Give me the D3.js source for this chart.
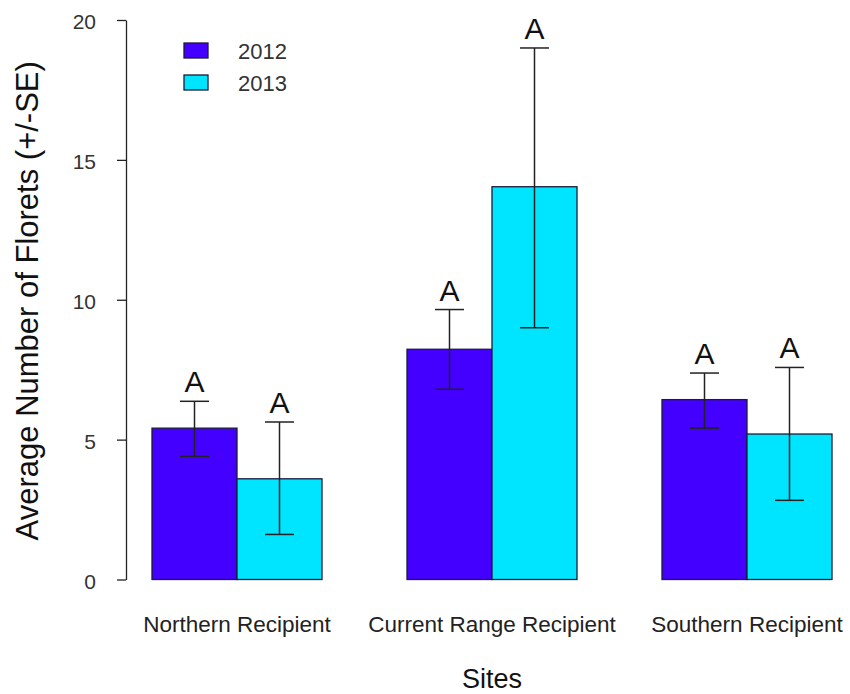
<!DOCTYPE html>
<html lang="en">
<head>
    <meta charset="UTF-8">
    <title>Average Number of Florets by Site</title>
    <script src="https://d3js.org/d3.v7.min.js"></script>
    <style>
        body { margin: 0; background: #fff; }
        svg { font-family: "Liberation Sans", Arial, sans-serif; }
        .axis text { fill: #333; font-size: 21px; }
        .axis path, .axis line { stroke: #222; stroke-width: 1.3px; }
        .site-label { fill: #222; font-size: 22.5px; }
        .legend text { fill: #333; font-size: 22px; }
    </style>
</head>
<body>
    <svg id="chart" width="850" height="694"></svg>

    <script>
        const sites = ["Northern Recipient", "Current Range Recipient", "Southern Recipient"];
        const years = ["2012", "2013"];
        const colors = ["#4400ff", "#00e5ff"];

        const means2012 = [5.41, 8.23, 6.43];
        const means2013 = [3.60, 14.04, 5.20];
        const lower2012 = [4.40, 6.80, 5.41];
        const upper2012 = [6.37, 9.65, 7.38];
        const lower2013 = [1.61, 9.00, 2.83];
        const upper2013 = [5.63, 19.00, 7.58];
        const letters2012 = ["A", "A", "A"];
        const letters2013 = ["A", "A", "A"];
        const yTicks = [0, 5, 10, 15, 20];

        // one record per bar
        const data = [];
        sites.forEach((s, i) => {
            data.push({site: s, year: "2012", mean: means2012[i], lo: lower2012[i], hi: upper2012[i], letter: letters2012[i]});
            data.push({site: s, year: "2013", mean: means2013[i], lo: lower2013[i], hi: upper2013[i], letter: letters2013[i]});
        });

        const svg = d3.select("#chart");

        const x = d3.scaleBand()
            .domain(sites)
            .range([152, 832])
            .paddingInner(1 / 3)
            .paddingOuter(0);

        const xYear = d3.scaleBand()
            .domain(years)
            .range([0, x.bandwidth()]);

        const y = d3.scaleLinear()
            .domain([0, 20])
            .range([579.5, 20]);

        const color = d3.scaleOrdinal().domain(years).range(colors);

        const barX = d => x(d.site) + xYear(d.year);
        const barMid = d => barX(d) + xYear.bandwidth() / 2;

        // bars
        svg.append("g")
            .selectAll("rect")
            .data(data)
            .enter().append("rect")
            .attr("x", barX)
            .attr("y", d => y(d.mean))
            .attr("width", xYear.bandwidth())
            .attr("height", d => y(0) - y(d.mean))
            .attr("fill", d => color(d.year))
            .attr("stroke", "#1b1b3a")
            .attr("stroke-width", 1.3);

        // error bars
        const err = svg.append("g")
            .attr("stroke", "#222")
            .attr("stroke-width", 1.5)
            .selectAll("g")
            .data(data)
            .enter().append("g");

        err.append("line")
            .attr("x1", barMid).attr("x2", barMid)
            .attr("y1", d => y(d.lo)).attr("y2", d => y(d.hi));
        err.append("line")
            .attr("x1", d => barMid(d) - 14.5).attr("x2", d => barMid(d) + 14.5)
            .attr("y1", d => y(d.hi)).attr("y2", d => y(d.hi));
        err.append("line")
            .attr("x1", d => barMid(d) - 14.5).attr("x2", d => barMid(d) + 14.5)
            .attr("y1", d => y(d.lo)).attr("y2", d => y(d.lo));

        // significance letters
        svg.append("g")
            .selectAll("text")
            .data(data)
            .enter().append("text")
            .attr("x", barMid)
            .attr("y", d => y(d.hi) - 9)
            .attr("text-anchor", "middle")
            .attr("font-size", "30px")
            .attr("fill", "#111")
            .text(d => d.letter);

        // y axis
        svg.append("g")
            .attr("class", "axis")
            .attr("transform", "translate(126,0)")
            .call(d3.axisLeft(y).tickValues(yTicks).tickSize(9).tickSizeOuter(0).tickPadding(21))
            .call(g => g.selectAll("text").attr("dy", "0.42em"));

        svg.append("text")
            .attr("transform", `translate(38,${(y(0) + y(20)) / 2 + 1}) rotate(-90)`)
            .attr("text-anchor", "middle")
            .attr("font-size", "31px")
            .attr("fill", "#111")
            .text("Average Number of Florets (+/-SE)");

        // site labels
        svg.append("g")
            .selectAll("text")
            .data(sites)
            .enter().append("text")
            .attr("class", "site-label")
            .attr("x", d => x(d) + x.bandwidth() / 2)
            .attr("y", 631.5)
            .attr("text-anchor", "middle")
            .text(d => d);

        svg.append("text")
            .attr("x", (x.range()[0] + x.range()[1]) / 2)
            .attr("y", 688)
            .attr("text-anchor", "middle")
            .attr("font-size", "27px")
            .attr("fill", "#111")
            .text("Sites");

        // legend
        const legend = svg.append("g")
            .attr("class", "legend")
            .attr("transform", "translate(184,43)")
            .selectAll("g")
            .data(years)
            .enter().append("g")
            .attr("transform", (d, i) => `translate(0,${i * 32})`);

        legend.append("rect")
            .attr("width", 24)
            .attr("height", 15)
            .attr("fill", color)
            .attr("stroke", "#1b1b3a")
            .attr("stroke-width", 1.3);

        legend.append("text")
            .attr("x", 54)
            .attr("y", 16)
            .text(d => d);
    </script>
</body>
</html>
